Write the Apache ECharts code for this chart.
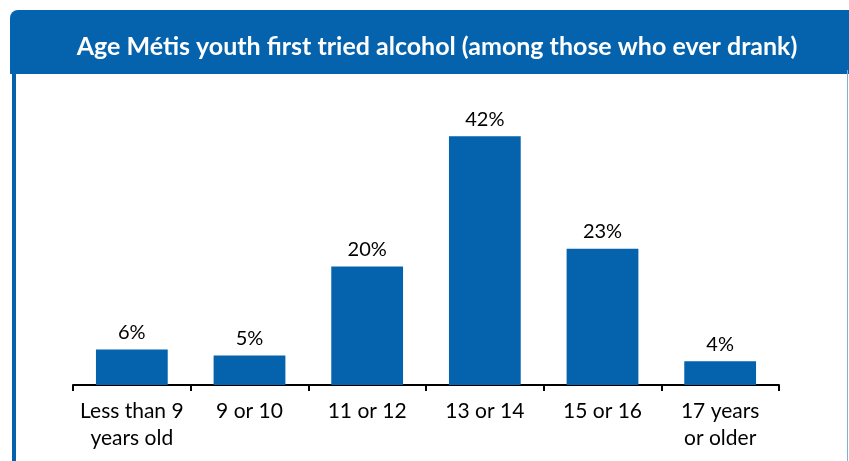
<!DOCTYPE html>
<html>
<head>
<meta charset="utf-8">
<script src="https://cdn.jsdelivr.net/npm/echarts@6/dist/echarts.min.js"></script>
<style>
html,body{margin:0;padding:0;background:#fff;}
#c{width:849px;height:461px;}
</style>
</head>
<body>
<div id="c"></div>
<script>
var titleText = 'Age Métis youth first tried alcohol (among those who ever drank)';
var categories = ['Less than 9\nyears old', '9 or 10', '11 or 12', '13 or 14', '15 or 16', '17 years\nor older'];
var values = [6, 5, 20, 42, 23, 4];

var blue = '#0562AC';
var chart = echarts.init(document.getElementById('c'), null, {renderer: 'canvas'});
chart.setOption({
  animation: false,
  backgroundColor: '#fff',
  title: {
    text: titleText,
    left: 432, top: 29, textAlign: 'center',
    textStyle: {color: '#fff', fontFamily: 'Lato', fontWeight: 'bold', fontSize: 25}
  },
  graphic: [
    {type: 'rect', shape: {x: 10, y: 10, width: 850, height: 64, r: [8, 0, 0, 0]}, style: {fill: blue}, z: -1},
    {type: 'rect', shape: {x: 12, y: 70, width: 4, height: 400}, style: {fill: blue}, z: -1},
    {type: 'rect', shape: {x: 847, y: 70, width: 1, height: 400}, style: {fill: '#7fb0dc'}, z: -1}
  ],
  grid: {left: 73, right: 70, top: 89, bottom: 76},
  xAxis: {
    type: 'category',
    data: categories,
    axisLine: {lineStyle: {color: '#000', width: 2}},
    axisTick: {show: true, length: 6, lineStyle: {color: '#000', width: 2}},
    axisLabel: {color: '#000', fontFamily: 'Lato', fontSize: 21, lineHeight: 27, margin: 13, interval: 0}
  },
  yAxis: {
    type: 'value', min: 0, max: 50, show: false,
    splitLine: {show: false}
  },
  series: [{
    type: 'bar',
    data: values,
    barCategoryGap: '39%',
    itemStyle: {color: blue},
    label: {
      show: true, position: 'top', distance: 7,
      formatter: '{c}%', color: '#000', fontFamily: 'Lato', fontSize: 20
    }
  }]
});
</script>
</body>
</html>
